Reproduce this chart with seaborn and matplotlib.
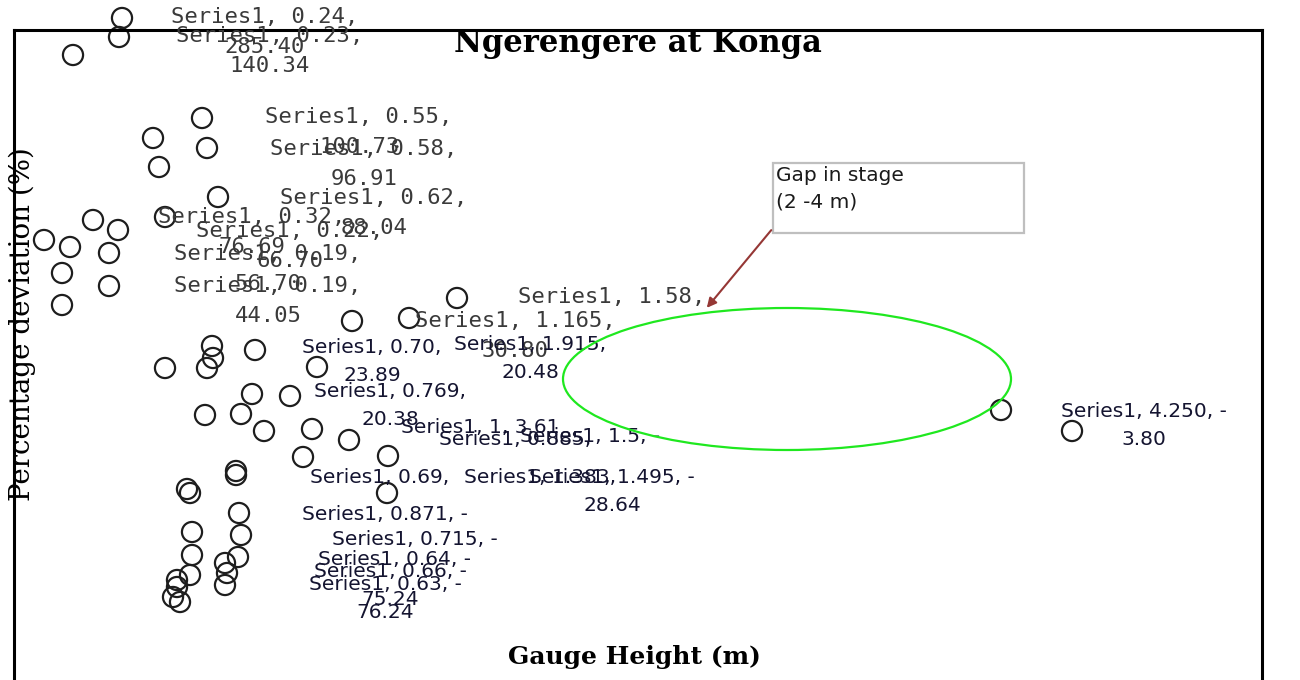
import numpy as np
import pandas as pd
import seaborn as sns
from matplotlib import pyplot as plt
from matplotlib.patches import Ellipse, Rectangle

# gauge height (m) and percentage deviation (%)
gauge_height = [0.432, 0.42, 0.236, 0.752, 0.556, 0.772, 0.58, 0.816, 0.604, 0.316,
                0.416, 0.12, 0.224, 0.38, 0.192, 0.38, 0.192, 1.772, 1.352, 1.58,
                0.792, 0.796, 0.964, 0.604, 0.772, 1.212, 0.952, 1.104, 0.764, 0.908,
                1.0, 1.192, 1.34, 1.156, 1.496, 0.888, 0.888, 0.704, 0.692, 1.492,
                0.9, 0.712, 0.908, 0.712, 0.896, 0.844, 0.704, 0.852, 0.652, 0.844,
                0.652, 0.664, 0.636, 3.948, 4.232]
deviation = [164.8, 157.2, 150.0, 124.8, 116.8, 112.8, 105.2, 93.2, 85.2, 84.0,
             80.0, 76.0, 73.2, 70.8, 62.8, 57.6, 50.0, 52.8, 43.6, 44.8,
             33.6, 28.8, 32.0, 24.8, 24.8, 25.2, 14.4, 13.6, 6.0, 6.4,
             -0.4, 0.4, -4.0, -10.8, -10.4, -18.0, -16.4, -25.2, -23.6, -25.2,
             -33.2, -40.8, -42.0, -50.0, -50.8, -53.2, -58.0, -57.2, -60.0, -62.0,
             -62.8, -68.8, -66.8, 8.0, -0.4]

# data labels as they appear (upper ones grey, lower ones dark)
grey_labels = ["Series1, 0.24,\n285.40", "Series1, 0.23,\n140.34", "Series1, 0.55,\n100.73",
               "Series1, 0.58,\n96.91", "Series1, 0.62,\n88.04", "Series1, 0.32,\n76.69",
               "Series1, 0.22,\n66.70", "Series1, 0.19,\n56.70", "Series1, 0.19,\n44.05",
               "Series1, 1.58,", "Series1, 1.165,\n30.80"]
grey_label_x = [1.004, 1.024, 1.38, 1.40, 1.44, 0.952, 1.104, 1.016, 1.016, 2.392, 2.004]
grey_label_y = [169.2, 161.6, 129.2, 116.4, 96.8, 89.2, 83.6, 74.4, 61.6, 57.2, 47.6]

dark_labels = ["Series1, 0.70,\n23.89", "Series1, 1.915,\n20.48", "Series1, 0.769,\n20.38",
               "Series1, 1, 3.61", "Series1, 1.5, -", "Series1, 0.885,", "Series1, 0.69,",
               "Series1, 1.495, -\n28.64", "Series1, 1.383,", "Series1, 0.871, -",
               "Series1, 0.715, -", "Series1, 0.64, -", "Series1, 0.66, -\n75.24",
               "Series1, 0.63, -\n76.24", "Series1, 4.250, -\n3.80"]
dark_label_x = [1.432, 2.064, 1.504, 1.864, 2.304, 2.004, 1.464, 2.392, 2.104, 1.484,
                1.604, 1.524, 1.504, 1.484, 4.52]
dark_label_y = [36.8, 38.0, 19.2, 4.8, 1.2, 0.0, -15.2, -15.2, -15.2, -30.0,
                -40.0, -48.0, -52.8, -58.0, 11.2]

df = pd.DataFrame({'gauge': gauge_height, 'dev': deviation})

sns.set_style('white')
fig = plt.figure(figsize=(13, 6.8), dpi=100)
ax = fig.add_axes([14 / 1300, -10 / 680, 1248 / 1300, 660 / 680])

sns.scatterplot(data=df, x='gauge', y='dev', ax=ax, s=210, color='none',
                edgecolor='#1e1e1e', linewidth=1.6, clip_on=False, zorder=2)

for t, x, y in zip(grey_labels, grey_label_x, grey_label_y):
    ax.text(x, y, t, ha='center', va='top', family='DejaVu Sans Mono', fontsize=16,
            color='#3a3a3a', linespacing=1.6, clip_on=False, zorder=3)
for t, x, y in zip(dark_labels, dark_label_x, dark_label_y):
    ax.text(x, y, t, ha='center', va='top', family='DejaVu Sans', fontsize=14.5,
            color='#141430', linespacing=1.6, clip_on=False, zorder=3)

# gap highlight and call-out
ax.add_patch(Ellipse((3.092, 20.4), 1.792, 56.8, fill=False, ec='#1fe81f', lw=1.6, zorder=5))
ax.add_patch(Rectangle((3.036, 78.8), 1.004, 28.0, fill=True, fc='white', ec='#bfbfbf', lw=1.6, zorder=4))
ax.text(3.05, 105.5, 'Gap in stage\n(2 -4 m)', ha='left', va='top', fontsize=14.5,
        color='#1a1a1a', linespacing=1.5, zorder=6)
ax.annotate('', xy=(2.764, 48.0), xytext=(3.036, 80.8),
            arrowprops=dict(arrowstyle='-|>', color='#953735', lw=1.5, mutation_scale=14), zorder=6)

ax.set_xlim(0, 4.992)
ax.set_ylim(-104, 160)
ax.set_xticks([])
ax.set_yticks([])
for side in ['left', 'top', 'right']:
    ax.spines[side].set_linewidth(2.2)
    ax.spines[side].set_color('black')
ax.spines['bottom'].set_visible(False)

ax.set_title('Ngerengere at Konga', y=0.98, pad=0, va='center', family='DejaVu Serif',
             fontweight='bold', fontsize=22, color='black')
ax.set_xlabel('Gauge Height (m)', family='DejaVu Serif', fontweight='bold', fontsize=18,
              va='center', color='black')
ax.xaxis.set_label_coords(0.497, 0.05)
ax.set_ylabel('Percentage deviation (%)', family='DejaVu Serif', fontsize=20, va='center',
              color='black')
ax.yaxis.set_label_coords(0.0064, 0.5545)

plt.savefig('out.png', dpi=100)
